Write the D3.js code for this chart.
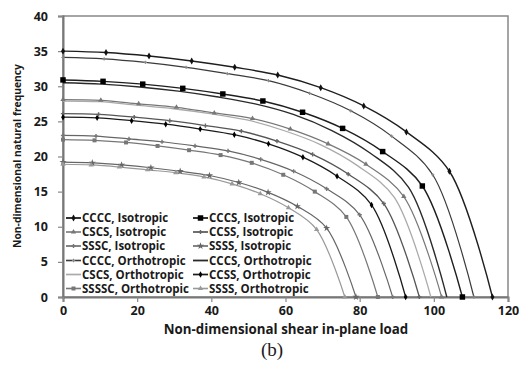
<!DOCTYPE html>
<html>
<head>
<meta charset="utf-8">
<script src="https://cdn.jsdelivr.net/npm/d3@7"></script>
<style>
  body { margin: 0; background: #fff; }
  svg { display: block; }
  text { font-family: 'Open Sans', sans-serif; font-weight: bold; fill: #1a1a1a; }
</style>
</head>
<body>
<svg id="chart" width="519" height="365"></svg>
<script>
'use strict'

// series names, in legend order (row by row, two columns)
const names = [
  'CCCC, Isotropic', 'CCCS, Isotropic',
  'CSCS, Isotropic', 'CCSS, Isotropic',
  'SSSC, Isotropic', 'SSSS, Isotropic',
  'CCCC, Orthotropic', 'CCCS, Orthotropic',
  'CSCS, Orthotropic', 'CCSS, Orthotropic',
  'SSSSC, Orthotropic', 'SSSS, Orthotropic'
]

// load (x) and frequency (y)
const loadCCCCiso = [0, 11.6, 23.2, 34.7, 46.3, 57.9, 69.5, 81.1, 92.6, 104.2, 115.8]
const freqCCCCiso = [35, 34.8, 34.3, 33.6, 32.7, 31.6, 29.8, 27.2, 23.5, 17.9, 0]
const loadCCCSiso = [0, 10.8, 21.5, 32.3, 43.1, 53.9, 64.6, 75.4, 86.2, 96.9, 107.7]
const freqCCCSiso = [30.9, 30.7, 30.3, 29.7, 28.9, 27.9, 26.3, 24.0, 20.7, 15.8, 0]
const loadCSCSiso = [0, 10.2, 20.4, 30.6, 40.8, 51.1, 61.3, 71.5, 81.7, 91.9, 102.1]
const freqCSCSiso = [28.1, 28.0, 27.5, 27.0, 26.2, 25.4, 23.9, 21.8, 18.9, 14.3, 0]
const loadCCSSiso = [0, 9.6, 19.2, 28.8, 38.4, 48.1, 57.7, 67.3, 76.9, 86.5, 96.1]
const freqCCSSiso = [26.1, 26.0, 25.6, 25.1, 24.4, 23.6, 22.2, 20.3, 17.5, 13.3, 0]
const loadSSSCiso = [0, 8.9, 17.8, 26.7, 35.6, 44.5, 53.3, 62.2, 71.1, 80.0, 88.9]
const freqSSSCiso = [23.0, 22.9, 22.5, 22.1, 21.5, 20.8, 19.6, 17.9, 15.4, 11.7, 0]
const loadSSSSiso = [0, 7.9, 15.8, 23.7, 31.6, 39.5, 47.4, 55.3, 63.2, 71.1, 79.0]
const freqSSSSiso = [19.2, 19.1, 18.8, 18.4, 17.9, 17.3, 16.3, 14.9, 12.9, 9.8, 0]
const loadCCCCor = [0, 11.1, 22.2, 33.2, 44.3, 55.4, 66.5, 77.6, 88.6, 99.7, 110.8]
const freqCCCCor = [34.1, 33.9, 33.4, 32.7, 31.8, 30.8, 29.0, 26.5, 22.9, 17.4, 0]
const loadCCCSor = [0, 10.4, 20.7, 31.1, 41.4, 51.8, 62.1, 72.5, 82.8, 93.2, 103.5]
const freqCCCSor = [30.5, 30.3, 29.9, 29.3, 28.5, 27.5, 26.0, 23.7, 20.5, 15.6, 0]
const loadCSCSor = [0, 9.9, 19.8, 29.8, 39.7, 49.6, 59.5, 69.4, 79.4, 89.3, 99.2]
const freqCSCSor = [27.9, 27.8, 27.3, 26.8, 26.1, 25.2, 23.7, 21.7, 18.7, 14.2, 0]
const loadCCSSor = [0, 9.2, 18.5, 27.7, 37.0, 46.2, 55.4, 64.7, 73.9, 83.2, 92.4]
const freqCCSSor = [25.6, 25.5, 25.1, 24.6, 23.9, 23.1, 21.8, 19.9, 17.2, 13.1, 0]
const loadSSSSCor = [0, 8.5, 17.0, 25.5, 34.0, 42.5, 50.9, 59.4, 67.9, 76.4, 84.9]
const freqSSSSCor = [22.4, 22.3, 22.0, 21.5, 20.9, 20.2, 19.1, 17.4, 15.0, 11.4, 0]
const loadSSSSor = [0, 7.6, 15.2, 22.8, 30.4, 38.0, 45.6, 53.2, 60.8, 68.4, 76.0]
const freqSSSSor = [18.9, 18.8, 18.5, 18.1, 17.7, 17.1, 16.1, 14.7, 12.7, 9.6, 0]

const xTicks = [0, 20, 40, 60, 80, 100, 120]
const yTicks = [0, 5, 10, 15, 20, 25, 30, 35, 40]

const loads = [loadCCCCiso, loadCCCSiso, loadCSCSiso, loadCCSSiso, loadSSSCiso, loadSSSSiso,
               loadCCCCor, loadCCCSor, loadCSCSor, loadCCSSor, loadSSSSCor, loadSSSSor]
const freqs = [freqCCCCiso, freqCCCSiso, freqCSCSiso, freqCCSSiso, freqSSSCiso, freqSSSSiso,
               freqCCCCor, freqCCCSor, freqCSCSor, freqCCSSor, freqSSSSCor, freqSSSSor]

// line colour, width, marker symbol, marker size, marker colour
const styles = [
  {c: '#1e1e1e', w: 1.4, m: d3.symbolDiamond, s: 14, mc: '#111'},
  {c: '#1e1e1e', w: 1.4, m: d3.symbolSquare, s: 30, mc: '#000'},
  {c: '#777',    w: 1.2, m: d3.symbolTriangle, s: 12, mc: '#777'},
  {c: '#555',    w: 1.3, m: d3.symbolCross, s: 10, mc: '#666'},
  {c: '#666',    w: 1.2, m: d3.symbolCross, s: 10, mc: '#777'},
  {c: '#666',    w: 1.2, m: d3.symbolStar, s: 16, mc: '#666'},
  {c: '#3a3a3a', w: 1.2, m: d3.symbolCross, s: 6, mc: '#888'},
  {c: '#2a2a2a', w: 1.4, m: null},
  {c: '#aaa',    w: 1.3, m: null},
  {c: '#1a1a1a', w: 1.3, m: d3.symbolDiamond, s: 12, mc: '#000'},
  {c: '#777',    w: 1.2, m: d3.symbolSquare, s: 16, mc: '#777'},
  {c: '#999',    w: 1.2, m: d3.symbolTriangle, s: 12, mc: '#999'}
]

const svg = d3.select('#chart')
const x = d3.scaleLinear().domain([0, 120]).range([63, 508])
const y = d3.scaleLinear().domain([0, 40]).range([297, 16])

// plot area border
svg.append('rect')
  .attr('x', x(0)).attr('y', y(40))
  .attr('width', x(120) - x(0)).attr('height', y(0) - y(40))
  .attr('fill', 'none').attr('stroke', '#888').attr('stroke-width', 1.5)

const yAxis = svg.append('g')
  .attr('transform', `translate(${x(0)},0)`)
  .call(d3.axisLeft(y).tickValues(yTicks).tickSize(5).tickPadding(10))
const xAxis = svg.append('g')
  .attr('transform', `translate(0,${y(0)})`)
  .call(d3.axisBottom(x).tickValues(xTicks).tickSize(5).tickPadding(4))

for (const ax of [xAxis, yAxis]) {
  ax.select('.domain').attr('stroke', '#777').attr('stroke-width', 2)
  ax.selectAll('.tick line').attr('stroke', '#888').attr('stroke-width', 1.2)
  ax.selectAll('.tick text')
    .attr('font-family', 'Open Sans, sans-serif')
    .attr('font-weight', 'bold')
    .attr('font-size', 12.5)
    .attr('fill', '#1a1a1a')
}

const line = d3.line()
  .x(d => x(d[0]))
  .y(d => y(d[1]))
  .curve(d3.curveCatmullRom.alpha(0.5))

const series = names.map((n, i) => ({
  name: n,
  st: styles[i],
  pts: loads[i].map((v, j) => [v, freqs[i][j]])
}))

const graphic = svg.append('g')
graphic.selectAll('path.series')
  .data(series)
  .join('path')
    .attr('class', 'series')
    .attr('fill', 'none')
    .attr('stroke', d => d.st.c)
    .attr('stroke-width', d => d.st.w)
    .attr('d', d => line(d.pts))

series.filter(d => d.st.m).forEach(d => {
  graphic.append('g').selectAll('path')
    .data(d.pts)
    .join('path')
      .attr('transform', p => `translate(${x(p[0])},${y(p[1])})`)
      .attr('d', d3.symbol().type(d.st.m).size(d.st.s))
      .attr('fill', d.st.mc)
})

// LEGEND
const legend = svg.append('g')
const colX = [66, 193]
const rowY = [218, 232, 246, 260.5, 274.5, 288.5]
series.forEach((d, i) => {
  const lx = colX[i % 2], ly = rowY[Math.floor(i / 2)]
  const g = legend.append('g').attr('transform', `translate(${lx},${ly})`)
  g.append('line')
    .attr('x1', 0).attr('x2', 15)
    .attr('stroke', d.st.c).attr('stroke-width', d.st.w + 0.4)
  if (d.st.m) {
    g.append('path')
      .attr('transform', 'translate(7.5,0)')
      .attr('d', d3.symbol().type(d.st.m).size(d.st.s))
      .attr('fill', d.st.mc)
  }
  g.append('text')
    .attr('x', 16).attr('dy', '0.35em')
    .attr('font-size', 11.5)
    .text(d.name)
})

// TITLES
svg.append('text')
  .attr('x', 286).attr('y', 334)
  .attr('text-anchor', 'middle')
  .attr('font-size', 13.3)
  .text('Non-dimensional shear in-plane load')

svg.append('text')
  .attr('transform', 'translate(21,156) rotate(-90)')
  .attr('text-anchor', 'middle')
  .attr('font-size', 10.3)
  .text('Non-dimensional natural frequency')

svg.append('text')
  .attr('x', 272).attr('y', 356)
  .attr('text-anchor', 'middle')
  .style('font-family', "'Liberation Serif', 'Times New Roman', serif")
  .style('font-weight', 'normal')
  .attr('font-size', 19)
  .text('(b)')
</script>
</body>
</html>
